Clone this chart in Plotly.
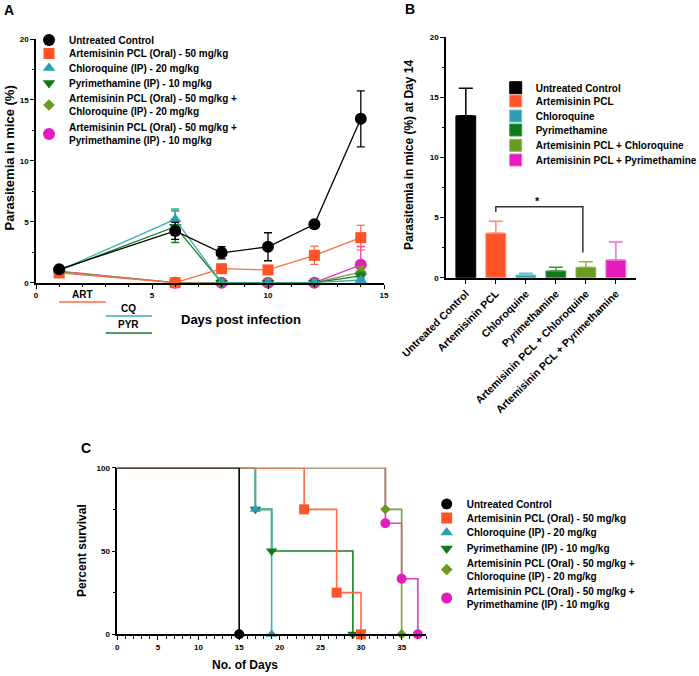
import plotly.graph_objects as go

W, H = 699, 676
def X(px): return px / W
def Y(py): return 1 - py / H

FONT = "Liberation Sans, Arial, sans-serif"

# ---------------- data ----------------
# Panel A: parasitemia over time
days = [1, 6, 8, 10, 12, 14]
untreated = [1.1, 4.25, 2.45, 2.95, 4.8, 13.45]
untreated_err = [0.1, 0.7, 0.5, 1.15, 0.15, 2.3]
art = [0.8, 0.0, 1.15, 1.05, 2.25, 3.7]
art_err = [0.1, 0.0, 0.1, 0.1, 0.75, 1.0]
cq = [1.0, 5.2, 0.0, 0.0, 0.0, 0.22]
cq_err = [0.1, 0.85, 0.0, 0.0, 0.0, 0.15]
pyr = [1.0, 4.6, 0.0, 0.0, 0.0, 0.56]
pyr_err = [0.1, 1.3, 0.0, 0.0, 0.0, 0.3]
art_cq = [0.9, 0.0, 0.0, 0.0, 0.0, 0.86]
art_cq_err = [0.1, 0.0, 0.0, 0.0, 0.0, 0.45]
art_pyr = [0.95, 0.0, 0.0, 0.0, 0.0, 1.47]
art_pyr_err = [0.1, 0.0, 0.0, 0.0, 0.0, 1.5]

# treatment periods (label, start day, end day)
treat_labels = ["ART", "CQ", "PYR"]
treat_start = [1, 3, 3]
treat_end = [3, 5, 5]

# Panel B: parasitemia at day 14
bar_cats = ["Untreated Control", "Artemisinin PCL", "Chloroquine", "Pyrimethamine",
            "Artemisinin PCL + Chloroquine", "Artemisinin PCL + Pyrimethamine"]
bar_vals = [13.45, 3.7, 0.22, 0.56, 0.86, 1.47]
bar_err = [2.3, 1.0, 0.14, 0.3, 0.47, 1.5]
sig_pair = [1, 3.9]
sig_y = 5.9
sig_left_end = 5.45
sig_right_end = 2.1

# Panel C: survival (event days, percent survival after each event)
surv_untreated_x = [0, 15]
surv_untreated_y = [100, 0]
surv_art_x = [0, 23, 27, 30]
surv_art_y = [100, 75, 25, 0]
surv_cq_x = [0, 17, 19]
surv_cq_y = [100, 75, 0]
surv_pyr_x = [0, 17, 19, 29]
surv_pyr_y = [100, 75, 50, 0]
surv_artcq_x = [0, 33, 35]
surv_artcq_y = [100, 75, 0]
surv_artpyr_x = [0, 33, 35, 37]
surv_artpyr_y = [100, 66.7, 33.3, 0]

names_long = ["Untreated Control",
              "Artemisinin PCL (Oral) - 50 mg/kg",
              "Chloroquine (IP) - 20 mg/kg",
              "Pyrimethamine (IP) - 10 mg/kg",
              "Artemisinin PCL (Oral) - 50 mg/kg +<br>Chloroquine (IP) - 20 mg/kg",
              "Artemisinin PCL (Oral) - 50 mg/kg +<br>Pyrimethamine (IP) - 10 mg/kg"]

colors = ["#000000", "#FF5427", "#2B9EB0", "#11781C", "#6A9A22", "#E41CBE"]
line_colors = ["#000000", "#FF6B45", "#3AAFB0", "#1A7F24", "#7BA23A", "#E03CC4"]
err_colors = ["#000000", "#FF8A6A", "#6CC3CC", "#3E9A48", "#93B85A", "#EA6FD2"]
symbols = ["circle", "square", "triangle-up", "triangle-down", "diamond", "circle"]
sizes_a = [12, 11, 11, 11, 9, 12]
sizes_c = [10, 10, 10, 10, 8, 10]

series_a = [(untreated, untreated_err), (art, art_err), (cq, cq_err),
            (pyr, pyr_err), (art_cq, art_cq_err), (art_pyr, art_pyr_err)]
series_c = [(surv_untreated_x, surv_untreated_y), (surv_art_x, surv_art_y),
            (surv_cq_x, surv_cq_y), (surv_pyr_x, surv_pyr_y),
            (surv_artcq_x, surv_artcq_y), (surv_artpyr_x, surv_artpyr_y)]

draw_order = [5, 4, 3, 2, 1, 0]

fig = go.Figure()

# ---------------- Panel A ----------------
for i in draw_order:
    yv, ev = series_a[i]
    fig.add_trace(go.Scatter(
        x=days, y=yv, mode="lines+markers", xaxis="x", yaxis="y",
        line=dict(color=line_colors[i], width=1.3),
        marker=dict(symbol=symbols[i], size=sizes_a[i], color=colors[i], line=dict(width=0)),
        error_y=dict(type="data", array=ev, color=line_colors[i], thickness=1.3, width=4),
        cliponaxis=False, showlegend=False))

# ---------------- Panel B ----------------
for i, cat in enumerate(bar_cats):
    fig.add_trace(go.Bar(
        x=[cat], y=[bar_vals[i]], xaxis="x2", yaxis="y2", width=0.66,
        marker=dict(color=colors[i], line=dict(color=err_colors[i], width=1)),
        error_y=dict(type="data", symmetric=False, array=[bar_err[i]], arrayminus=[0],
                     color=err_colors[i], thickness=1.5, width=7),
        name=cat, legend="legend%d" % (7 + i), showlegend=True))

# ---------------- Panel C ----------------
for i in draw_order:
    sx, sy = series_c[i]
    fig.add_trace(go.Scatter(
        x=sx, y=sy, mode="lines", line_shape="hv", xaxis="x3", yaxis="y3",
        line=dict(color=line_colors[i], width=1.6), cliponaxis=False, showlegend=False))
for i in draw_order:
    sx, sy = series_c[i]
    fig.add_trace(go.Scatter(
        x=sx[1:], y=sy[1:], mode="markers", xaxis="x3", yaxis="y3",
        marker=dict(symbol=symbols[i], size=sizes_c[i], color=colors[i]),
        cliponaxis=False, showlegend=False))

# ---------------- legend-only entries (A and C) ----------------
def legend_key(n):
    return "legend" if n == 1 else "legend%d" % n

for i in range(6):
    fig.add_trace(go.Scatter(
        x=[None], y=[None], mode="markers", xaxis="x", yaxis="y",
        marker=dict(symbol=symbols[i], size=sizes_a[i], color=colors[i]),
        name=names_long[i], legend=legend_key(1 + i), showlegend=True))
for i in range(6):
    fig.add_trace(go.Scatter(
        x=[None], y=[None], mode="markers", xaxis="x3", yaxis="y3",
        marker=dict(symbol=symbols[i], size=sizes_c[i] + 1, color=colors[i]),
        name=names_long[i], legend=legend_key(13 + i), showlegend=True))

legend_font = dict(family=FONT, size=10, color="#000", weight="bold")
leg_a_y = [40, 53.5, 68, 83, 105, 134]
leg_b_y = [87.7, 101, 116, 130, 145.3, 160]
leg_c_y = [504, 518, 532.5, 548.5, 569.5, 598]
leg_a_text_x, leg_b_text_x, leg_c_text_x = 69, 535.7, 466.7

layout_legends = {}
for k in range(6):
    for base, ys, xt in [(1, leg_a_y, leg_a_text_x), (7, leg_b_y, leg_b_text_x), (13, leg_c_y, leg_c_text_x)]:
        layout_legends[legend_key(base + k)] = dict(
            x=X(xt - 40), y=Y(ys[k]), xanchor="left", yanchor="middle",
            bgcolor="rgba(0,0,0,0)", borderwidth=0, font=legend_font,
            itemwidth=30, tracegroupgap=0)

tickfont = dict(family=FONT, size=8, color="#000", weight="bold")
axis_common = dict(showline=True, linecolor="#000", linewidth=1.6, ticks="outside",
                   tickcolor="#000", tickwidth=1.4, ticklen=4, showgrid=False,
                   zeroline=False, tickfont=tickfont, automargin=False)
minor_ticks = dict(ticks="outside", ticklen=2.5, tickcolor="#000", tickwidth=1.2)

fig.update_layout(
    width=W, height=H, margin=dict(l=0, r=0, t=0, b=0, autoexpand=False),
    paper_bgcolor="white", plot_bgcolor="rgba(0,0,0,0)",
    barmode="overlay", showlegend=True,
    font=dict(family=FONT, color="#000"),
    xaxis=dict(domain=[X(36), X(384)], range=[0, 15], tickvals=[0, 5, 10, 15],
               minor=dict(dtick=1, **minor_ticks), anchor="y", **axis_common),
    yaxis=dict(domain=[Y(282.7), Y(39)], range=[0, 20], tickvals=[0, 5, 10, 15, 20],
               minor=dict(dtick=2.5, **minor_ticks), anchor="x", **axis_common),
    xaxis2=dict(domain=[X(446), X(636)], range=[-0.66, 5.67], type="category",
                tickangle=-45, anchor="y2",
                **{**axis_common, "tickfont": dict(family=FONT, size=10.5, color="#000", weight="bold")}),
    yaxis2=dict(domain=[Y(277.7), Y(37)], range=[0, 20], tickvals=[0, 5, 10, 15, 20],
                minor=dict(dtick=2.5, **minor_ticks), anchor="x2", **axis_common),
    xaxis3=dict(domain=[X(117.3), X(426)], range=[0, 38], tickvals=[0, 5, 10, 15, 20, 25, 30, 35],
                minor=dict(dtick=1, **minor_ticks), anchor="y3", **axis_common),
    yaxis3=dict(domain=[Y(634.3), Y(467.7)], range=[0, 100], tickvals=[0, 50, 100],
                minor=dict(dtick=25, **minor_ticks), anchor="x3", **axis_common),
    **layout_legends,
)

# treatment period bars under panel A
treat_text_y = [295, 309, 324]
treat_line_y = [302, 316, 333]
for k in range(3):
    fig.add_shape(type="line", xref="x", yref="paper",
                  x0=treat_start[k], x1=treat_end[k], y0=Y(treat_line_y[k]), y1=Y(treat_line_y[k]),
                  line=dict(color=line_colors[[1, 2, 3][k]], width=1.6))
    fig.add_annotation(x=(treat_start[k] + treat_end[k]) / 2, xref="x", y=Y(treat_text_y[k]), yref="paper",
                       text=treat_labels[k], showarrow=False, yanchor="middle",
                       font=dict(family=FONT, size=10, color="#000", weight="bold"))

# significance bracket panel B
fig.add_shape(type="path", xref="x2", yref="y2",
              path="M %g,%g L %g,%g L %g,%g L %g,%g" % (sig_pair[0], sig_left_end, sig_pair[0], sig_y,
                                                        sig_pair[1], sig_y, sig_pair[1], sig_right_end),
              line=dict(color="#333", width=1.5))
fig.add_annotation(x=(sig_pair[0] + sig_pair[1]) / 2 - 0.05, xref="x2", y=sig_y + 0.45, yref="y2",
                   text="*", showarrow=False, yanchor="middle",
                   font=dict(family=FONT, size=11, color="#000", weight="bold"))

# titles & panel labels
def ann(text, x, y, size, angle=0):
    fig.add_annotation(x=X(x), y=Y(y), xref="paper", yref="paper", text=text, showarrow=False,
                       textangle=angle, xanchor="center", yanchor="middle",
                       font=dict(family=FONT, size=size, color="#000", weight="bold"))

ann("Parasitemia in mice (%)", 9.5, 158, 13, -90)
ann("Days post infection", 241, 319, 13)
ann("Parasitemia in mice (%) at Day 14", 409, 155, 12, -90)
ann("Percent survival", 82, 551, 12, -90)
ann("No. of Days", 245, 665, 12)
ann("A", 9, 10, 14)
ann("B", 410, 9, 14)
ann("C", 86, 448, 14)

fig.write_html("out.html", config={"displayModeBar": False},
               post_script="document.body.style.margin='0';document.body.style.padding='0';")
